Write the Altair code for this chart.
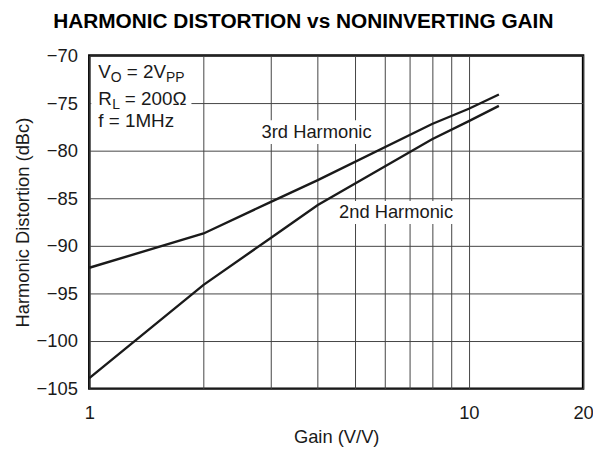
import altair as alt
import pandas as pd

# ---- data ----
gain = [1, 2, 3, 4, 8, 10, 12]
third_harmonic = [-92.3, -88.7, -85.4, -83.1, -77.2, -75.6, -74.1]
second_harmonic = [-103.9, -94.1, -89.2, -85.7, -78.8, -76.9, -75.3]

x_grid = [1, 2, 3, 4, 5, 6, 7, 8, 9, 10, 20]
x_labels = [1, 10, 20]
y_ticks = [-105, -100, -95, -90, -85, -80, -75, -70]

label_text = ["3rd Harmonic", "2nd Harmonic"]
label_x = [3.97, 6.43]
label_y = [-78.0, -86.45]
box_x1 = [2.81, 4.50]
box_x2 = [5.59, 9.20]
box_y1 = [-76.8, -85.3]
box_y2 = [-79.3, -87.7]

FONT = "Liberation Sans"
FS = 18.5
INK = "#1a1a1a"

df = pd.DataFrame({
    "gain": gain + gain,
    "dist": third_harmonic + second_harmonic,
    "series": ["3rd"] * len(gain) + ["2nd"] * len(gain),
})
ann = pd.DataFrame({
    "text": label_text, "x": label_x, "y": label_y,
    "x1": box_x1, "x2": box_x2, "y1": box_y1, "y2": box_y2,
})
one = pd.DataFrame({"k": [0]})

xscale = alt.Scale(type="log", domain=[1, 20], nice=False)
yscale = alt.Scale(domain=[-105, -70], nice=False, zero=False)

label_expr = "indexof([" + ", ".join(str(v) for v in x_labels) + "], datum.value) >= 0 ? datum.label : ''"

xaxis = alt.Axis(
    values=x_grid, format="d", labelExpr=label_expr,
    title="Gain (V/V)", grid=True, gridColor="#444", gridWidth=1, gridOpacity=1,
    ticks=False, domain=False, labelFont=FONT, labelFontSize=FS, labelColor=INK,
    labelPadding=15, titleFont=FONT, titleFontSize=FS, titleFontWeight="normal",
    titleColor=INK, titlePadding=6, labelFlush=False,
)
yaxis = alt.Axis(
    values=y_ticks, format="d",
    labelExpr="replace(datum.label, '-', '\u2212')",
    title="Harmonic Distortion (dBc)", grid=True, gridColor="#444", gridWidth=1,
    gridOpacity=1, ticks=False, domain=False, labelFont=FONT, labelFontSize=FS,
    labelColor=INK, labelPadding=12, titleFont=FONT, titleFontSize=FS,
    titleFontWeight="normal", titleColor=INK, titlePadding=4,
)

lines = alt.Chart(df).mark_line(color=INK, strokeWidth=2.4).encode(
    x=alt.X("gain:Q", scale=xscale, axis=xaxis),
    y=alt.Y("dist:Q", scale=yscale, axis=yaxis),
    detail="series:N",
)

boxes = alt.Chart(ann).mark_rect(color="white").encode(
    x=alt.X("x1:Q", scale=xscale), x2="x2:Q",
    y=alt.Y("y1:Q", scale=yscale), y2="y2:Q",
)
labels = alt.Chart(ann).mark_text(font=FONT, fontSize=FS, color=INK, baseline="middle", align="center").encode(
    x=alt.X("x:Q", scale=xscale), y=alt.Y("y:Q", scale=yscale), text="text:N",
)

# condition box (white background in upper-left corner)
cond_bg = alt.Chart(one).mark_rect(color="white").encode(
    x=alt.value(2), x2=alt.value(103), y=alt.value(2), y2=alt.value(82),
)

def txt(s, px, py, size):
    return alt.Chart(one).mark_text(
        font=FONT, fontSize=size, color=INK, align="left", baseline="alphabetic", text=s
    ).encode(x=alt.value(px), y=alt.value(py))

MAIN = 19
SUB = 14
cond = [
    txt("V", 9, 23, MAIN), txt("O", 21.7, 27, SUB), txt("= 2V", 37.7, 23, MAIN), txt("PP", 77.3, 27, SUB),
    txt("R", 9, 50, MAIN), txt("L", 23.2, 54, SUB), txt("= 200\u03a9", 35.8, 50, MAIN),
    txt("f = 1MHz", 9, 72, MAIN),
]

chart = alt.layer(boxes, cond_bg, lines, labels, *cond).properties(
    width=498, height=336,
    title=alt.TitleParams(
        "HARMONIC DISTORTION vs NONINVERTING GAIN", font=FONT, fontSize=21,
        fontWeight="bold", color="#000", anchor="middle", frame="bounds", offset=15,
    ),
    autosize=alt.AutoSizeParams(type="none"),
    padding={"left": 82, "top": 46, "right": 10, "bottom": 58},
).configure_view(stroke="#000", strokeWidth=2.5)

chart.save("out.html", embed_options={"renderer": "svg", "actions": False})
